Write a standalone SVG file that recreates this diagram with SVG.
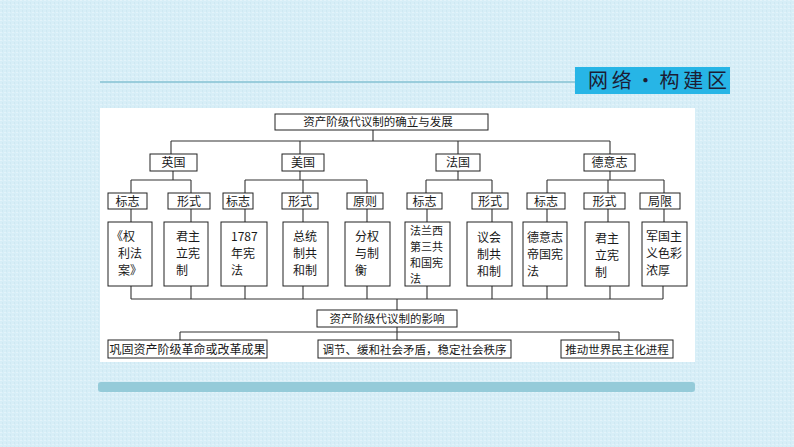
<svg xmlns="http://www.w3.org/2000/svg" width="794" height="447" viewBox="0 0 794 447">
  <style>
    text { font-family: "Noto Sans CJK SC", "Noto Sans", sans-serif; fill: #1a1a1a; }
    .box { fill: #ffffff; stroke: #222222; stroke-width: 1; }
    .t11 { font-size: 11.5px; }
    .t12 { font-size: 12px; }
    .t4 { font-size: 11px; }
    .c { text-anchor: middle; }
    .conn { fill: none; stroke: #333333; stroke-width: 1.1; }
  </style>
  <defs>
    <pattern id="tex" width="4" height="4" patternUnits="userSpaceOnUse">
      <rect width="4" height="4" fill="#d7eef7"/>
      <rect x="0" y="0" width="2" height="1" fill="#e3f3fa"/>
      <rect x="2" y="2" width="1" height="2" fill="#cfe8f2"/>
    </pattern>
  </defs>
  <rect width="794" height="447" fill="url(#tex)"/>

  <!-- header -->
  <g id="header">
    <line x1="100" y1="82" x2="576" y2="82" stroke="#86c2d3" stroke-width="1.6"/>
    <rect x="575" y="67" width="155" height="27" fill="#27b5e6"/>
    <text x="588" y="88" font-size="20" textLength="139" lengthAdjust="spacing" style="fill:#1c1c34">网络·构建区</text>
  </g>

  <!-- white panel and bottom bar -->
  <rect x="100" y="108" width="595" height="254" fill="#ffffff"/>
  <rect x="98" y="382" width="597" height="10" rx="3" fill="#95cbd9"/>

  <!-- connectors -->
  <g id="connectors" class="conn">
    <path d="M373 130 V141 M171 141 H610 M171 141 V154 M300 141 V154 M458 141 V154 M610 141 V154"/>
    <path d="M173 171 V180 M131 180 H191 M131 180 V193 M191 180 V193"/>
    <path d="M300 171 V180 M245 180 H367 M245 180 V193 M303 180 V193 M367 180 V193"/>
    <path d="M458 171 V180 M426 180 H492 M426 180 V193 M492 180 V193"/>
    <path d="M610 171 V180 M547 180 H664 M547 180 V193 M608 180 V193 M664 180 V193"/>
    <path d="M131 209 V222 M191 209 V222 M245 209 V222 M303 209 V222 M367 209 V222 M427 209 V222 M492 209 V222 M547 209 V222 M608 209 V222 M664 209 V222"/>
    <path d="M131 286 V299 M191 286 V299 M245 286 V299 M303 286 V299 M367 286 V299 M427 286 V299 M492 286 V299 M547 286 V299 M610 286 V299 M663 286 V299 M131 299 H663"/>
    <path d="M397 299 V310 M397 327 V340 M180 332 H619 M180 332 V340 M619 332 V340"/>
  </g>

  <!-- top title -->
  <g id="n-title">
    <rect class="box" x="275" y="114" width="213" height="16"/>
    <text class="t11 c" x="378" y="126">资产阶级代议制的确立与发展</text>
  </g>

  <!-- countries -->
  <g id="n-uk"><rect class="box" x="150" y="154" width="47" height="17"/><text class="t12 c" x="173.5" y="167">英国</text></g>
  <g id="n-us"><rect class="box" x="282" y="154" width="42" height="17"/><text class="t12 c" x="303" y="167">美国</text></g>
  <g id="n-fr"><rect class="box" x="436" y="154" width="44" height="17"/><text class="t12 c" x="458" y="167">法国</text></g>
  <g id="n-de"><rect class="box" x="584" y="154" width="51" height="17"/><text class="t12 c" x="609.5" y="167">德意志</text></g>

  <!-- second level -->
  <g id="n-uk-bz"><rect class="box" x="108" y="193" width="39" height="16"/><text class="t12 c" x="127.5" y="205.5">标志</text></g>
  <g id="n-uk-xs"><rect class="box" x="168" y="193" width="42" height="16"/><text class="t12 c" x="189" y="205.5">形式</text></g>
  <g id="n-us-bz"><rect class="box" x="223" y="193" width="30" height="16"/><text class="t12 c" x="238" y="205.5">标志</text></g>
  <g id="n-us-xs"><rect class="box" x="282" y="193" width="36" height="16"/><text class="t12 c" x="300" y="205.5">形式</text></g>
  <g id="n-us-yz"><rect class="box" x="347" y="193" width="36" height="16"/><text class="t12 c" x="365" y="205.5">原则</text></g>
  <g id="n-fr-bz"><rect class="box" x="407" y="193" width="35" height="16"/><text class="t12 c" x="424.5" y="205.5">标志</text></g>
  <g id="n-fr-xs"><rect class="box" x="472" y="193" width="36" height="16"/><text class="t12 c" x="490" y="205.5">形式</text></g>
  <g id="n-de-bz"><rect class="box" x="527" y="193" width="38" height="16"/><text class="t12 c" x="546" y="205.5">标志</text></g>
  <g id="n-de-xs"><rect class="box" x="584" y="193" width="41" height="16"/><text class="t12 c" x="604.5" y="205.5">形式</text></g>
  <g id="n-de-jx"><rect class="box" x="640" y="193" width="40" height="16"/><text class="t12 c" x="660" y="205.5">局限</text></g>

  <!-- leaves -->
  <g id="n-l1"><rect class="box" x="108" y="222" width="44" height="64"/>
    <text class="t12" x="111" y="241">《权</text><text class="t12" x="118" y="258">利法</text><text class="t12" x="118" y="275">案》</text></g>
  <g id="n-l2"><rect class="box" x="164" y="222" width="44" height="64"/>
    <text class="t12" x="176" y="241">君主</text><text class="t12" x="176" y="258">立宪</text><text class="t12" x="176" y="275">制</text></g>
  <g id="n-l3"><rect class="box" x="221" y="222" width="46" height="64"/>
    <text class="t12" x="231" y="241">1787</text><text class="t12" x="231" y="258">年宪</text><text class="t12" x="231" y="275">法</text></g>
  <g id="n-l4"><rect class="box" x="283" y="222" width="45" height="64"/>
    <text class="t12" x="293" y="241">总统</text><text class="t12" x="293" y="258">制共</text><text class="t12" x="293" y="275">和制</text></g>
  <g id="n-l5"><rect class="box" x="345" y="222" width="45" height="64"/>
    <text class="t12" x="355" y="241">分权</text><text class="t12" x="355" y="258">与制</text><text class="t12" x="355" y="275">衡</text></g>
  <g id="n-l6"><rect class="box" x="405" y="222" width="45" height="64"/>
    <text class="t4" x="410" y="235">法兰西</text><text class="t4" x="410" y="251">第三共</text><text class="t4" x="410" y="267">和国宪</text><text class="t4" x="410" y="283">法</text></g>
  <g id="n-l7"><rect class="box" x="467" y="222" width="45" height="64"/>
    <text class="t12" x="477" y="242">议会</text><text class="t12" x="477" y="259">制共</text><text class="t12" x="477" y="276">和制</text></g>
  <g id="n-l8"><rect class="box" x="523" y="222" width="44" height="64"/>
    <text class="t12" x="527" y="242">德意志</text><text class="t12" x="527" y="259">帝国宪</text><text class="t12" x="527" y="276">法</text></g>
  <g id="n-l9"><rect class="box" x="585" y="222" width="44" height="64"/>
    <text class="t12" x="595" y="243">君主</text><text class="t12" x="595" y="260">立宪</text><text class="t12" x="595" y="277">制</text></g>
  <g id="n-l10"><rect class="box" x="642" y="222" width="45" height="64"/>
    <text class="t12" x="646" y="241">军国主</text><text class="t12" x="646" y="258">义色彩</text><text class="t12" x="646" y="275">浓厚</text></g>

  <!-- impact -->
  <g id="n-impact"><rect class="box" x="317" y="310" width="140" height="17"/>
    <text class="t11 c" x="387" y="322.5">资产阶级代议制的影响</text></g>

  <g id="n-b1"><rect class="box" x="108" y="340" width="159" height="18"/>
    <text class="t12 c" x="187.5" y="353.5">巩固资产阶级革命或改革成果</text></g>
  <g id="n-b2"><rect class="box" x="318" y="340" width="193" height="18"/>
    <text class="t11 c" x="414.5" y="353.5">调节、缓和社会矛盾，稳定社会秩序</text></g>
  <g id="n-b3"><rect class="box" x="561" y="340" width="112" height="18"/>
    <text class="t11 c" x="617" y="353.5">推动世界民主化进程</text></g>
</svg>
